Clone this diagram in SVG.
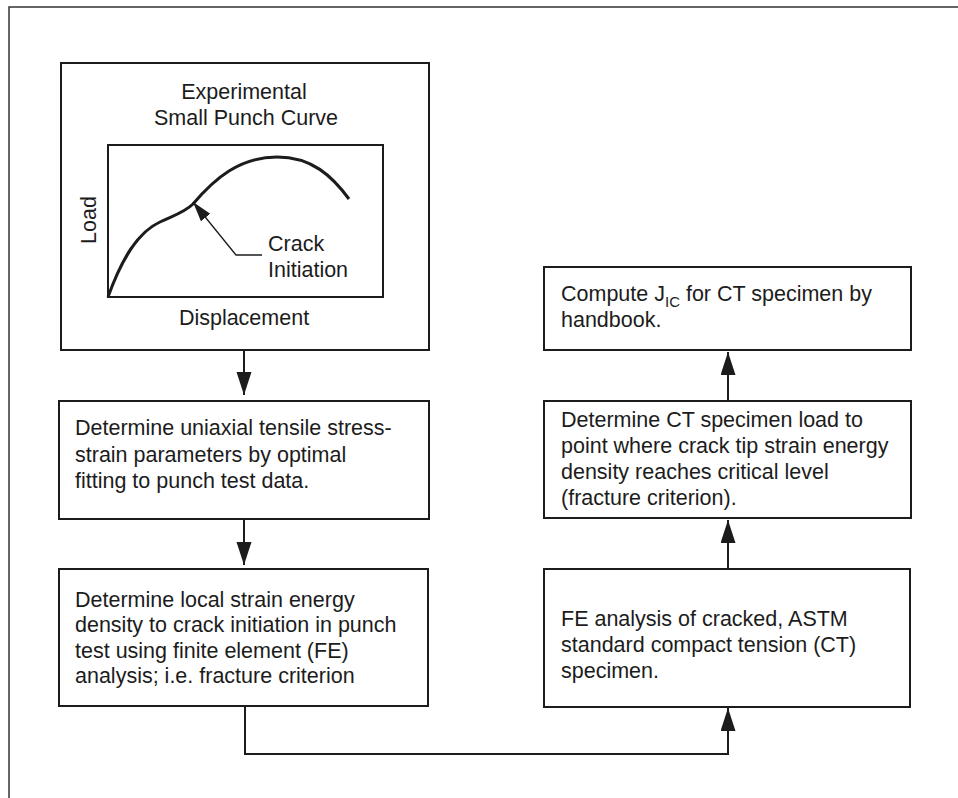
<svg xmlns="http://www.w3.org/2000/svg" width="958" height="798" viewBox="0 0 958 798">
  <style>
    .box { fill: #ffffff; stroke: #1c1c1c; stroke-width: 2; }
    .txt { font-family: "Liberation Sans", Arial, sans-serif; font-size: 21.5px; fill: #1c1c1c; }
    .sub { font-size: 15px; }
    .wire { fill: none; stroke: #1c1c1c; stroke-width: 2; }
    .thin { fill: none; stroke: #1c1c1c; stroke-width: 1.3; }
    .frame { fill: none; stroke: #333333; stroke-width: 1.5; }
  </style>
  <defs>
    <marker id="arrow" markerUnits="userSpaceOnUse" markerWidth="26" markerHeight="18" refX="23" refY="7.5" orient="auto">
      <path d="M0,0 L23,7.5 L0,15 z" fill="#1c1c1c"/>
    </marker>
    <marker id="arrowSmall" markerUnits="userSpaceOnUse" markerWidth="22" markerHeight="14" refX="20" refY="6" orient="auto">
      <path d="M0,0 L20,6 L0,12 z" fill="#1c1c1c"/>
    </marker>
  </defs>

  <rect width="958" height="798" fill="#ffffff"/>

  <!-- page frame (top and left edges) -->
  <path class="frame" d="M9,798 V7 H958"/>

  <!-- Step 1: experimental small punch curve -->
  <g id="punch-curve">
    <rect class="box" x="61" y="63" width="368" height="287"/>
    <text class="txt" x="244" y="99" text-anchor="middle">Experimental</text>
    <text class="txt" x="246" y="125" text-anchor="middle">Small Punch Curve</text>
    <rect class="box" x="108" y="145" width="275" height="152"/>
    <path d="M108,297 C122,258 138,232 160,222 C175,215 185,212 193,204 C215,178 240,157 277,157 C312,157 332,176 349,199" fill="none" stroke="#1c1c1c" stroke-width="3"/>
    <polyline class="thin" points="262,255 236,255 193,202" marker-end="url(#arrowSmall)"/>
    <text class="txt" x="268" y="251">Crack</text>
    <text class="txt" x="268" y="277">Initiation</text>
    <text class="txt" x="244" y="325" text-anchor="middle">Displacement</text>
    <text class="txt" transform="translate(96,220) rotate(-90)" text-anchor="middle">Load</text>
  </g>

  <!-- Step 2 -->
  <g id="fit-parameters">
    <rect class="box" x="59" y="401" width="370" height="118"/>
    <text class="txt" x="75" y="435">Determine uniaxial tensile stress-</text>
    <text class="txt" x="75" y="462">strain parameters by optimal</text>
    <text class="txt" x="75" y="488">fitting to punch test data.</text>
  </g>

  <!-- Step 3 -->
  <g id="local-energy">
    <rect class="box" x="59" y="569" width="369" height="137"/>
    <text class="txt" x="75" y="607">Determine local strain energy</text>
    <text class="txt" x="75" y="632">density to crack initiation in punch</text>
    <text class="txt" x="75" y="658">test using finite element (FE)</text>
    <text class="txt" x="75" y="683">analysis; i.e. fracture criterion</text>
  </g>

  <!-- Step 4 -->
  <g id="fe-ct">
    <rect class="box" x="544" y="569" width="366" height="138"/>
    <text class="txt" x="561" y="626">FE analysis of cracked, ASTM</text>
    <text class="txt" x="561" y="652">standard compact tension (CT)</text>
    <text class="txt" x="561" y="678">specimen.</text>
  </g>

  <!-- Step 5 -->
  <g id="ct-load">
    <rect class="box" x="544" y="401" width="367" height="117"/>
    <text class="txt" x="561" y="427">Determine CT specimen load to</text>
    <text class="txt" x="561" y="453">point where crack tip strain energy</text>
    <text class="txt" x="561" y="479">density reaches critical level</text>
    <text class="txt" x="561" y="505">(fracture criterion).</text>
  </g>

  <!-- Step 6 -->
  <g id="compute-jic">
    <rect class="box" x="544" y="267" width="367" height="83"/>
    <text class="txt" x="561" y="301">Compute J<tspan class="sub" dy="6">IC</tspan><tspan dy="-6"> for CT specimen by</tspan></text>
    <text class="txt" x="561" y="327">handbook.</text>
  </g>

  <!-- connectors -->
  <g id="connectors">
    <line class="wire" x1="244" y1="350" x2="244" y2="395" marker-end="url(#arrow)"/>
    <line class="wire" x1="244" y1="519" x2="244" y2="565" marker-end="url(#arrow)"/>
    <path class="wire" d="M245,706 V754 H728 V708" marker-end="url(#arrow)"/>
    <line class="wire" x1="728" y1="569" x2="728" y2="520" marker-end="url(#arrow)"/>
    <line class="wire" x1="728" y1="401" x2="728" y2="352" marker-end="url(#arrow)"/>
  </g>
</svg>
